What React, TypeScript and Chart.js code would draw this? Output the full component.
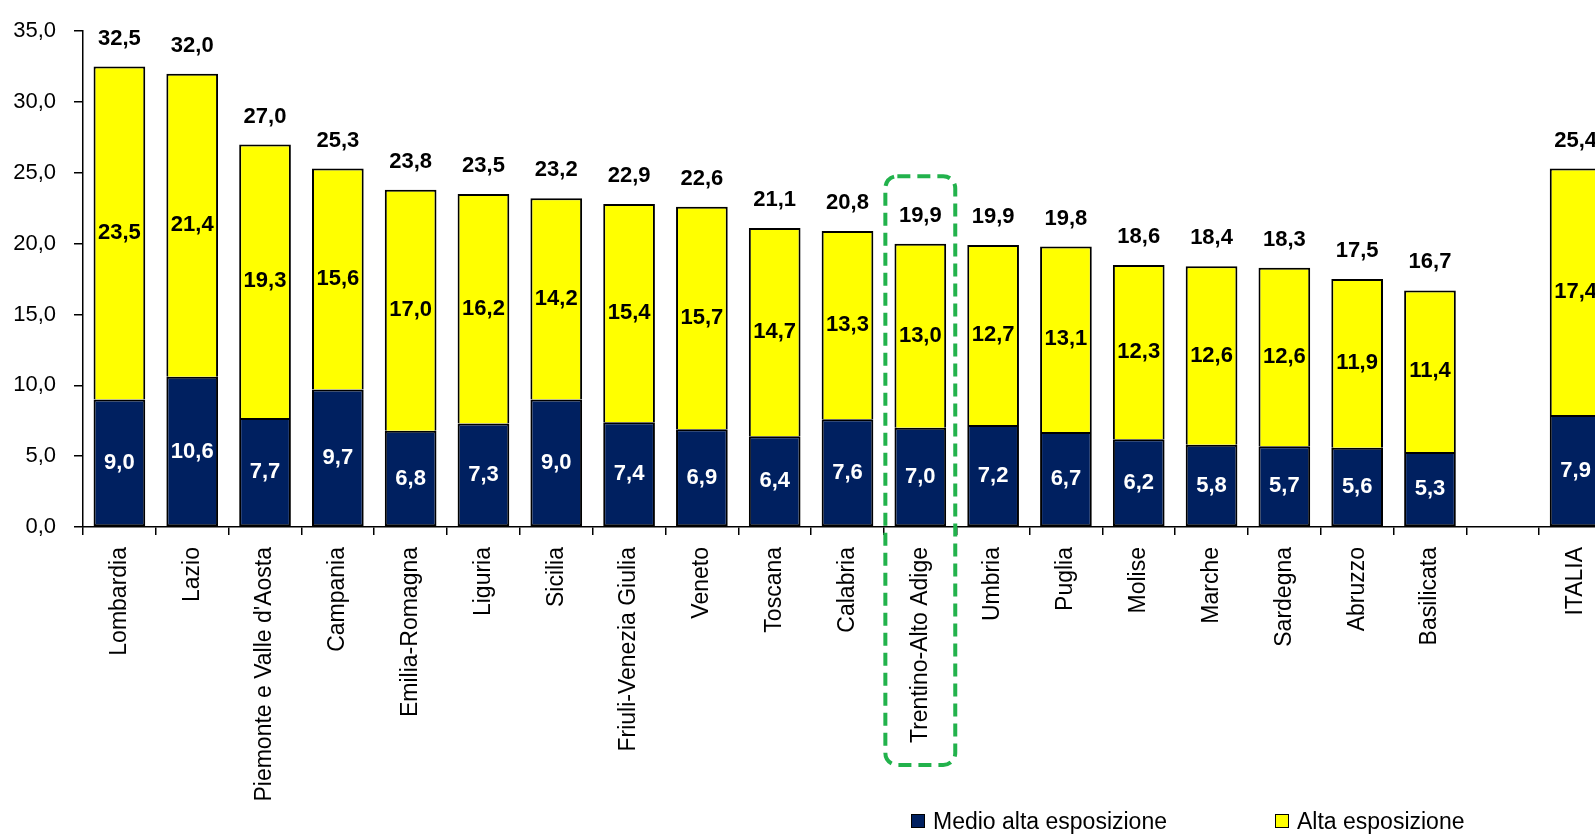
import { useEffect, useRef } from "react";
import { Chart, registerables } from "chart.js";

Chart.register(...registerables);

const regions = [
  "Lombardia",
  "Lazio",
  "Piemonte e Valle d'Aosta",
  "Campania",
  "Emilia-Romagna",
  "Liguria",
  "Sicilia",
  "Friuli-Venezia Giulia",
  "Veneto",
  "Toscana",
  "Calabria",
  "Trentino-Alto Adige",
  "Umbria",
  "Puglia",
  "Molise",
  "Marche",
  "Sardegna",
  "Abruzzo",
  "Basilicata",
  "",
  "ITALIA",
];

const medioAlta = [9.0, 10.6, 7.7, 9.7, 6.8, 7.3, 9.0, 7.4, 6.9, 6.4, 7.6, 7.0, 7.2, 6.7, 6.2, 5.8, 5.7, 5.6, 5.3, null, 7.9];
const alta = [23.5, 21.4, 19.3, 15.6, 17.0, 16.2, 14.2, 15.4, 15.7, 14.7, 13.3, 13.0, 12.7, 13.1, 12.3, 12.6, 12.6, 11.9, 11.4, null, 17.4];
const totale = [32.5, 32.0, 27.0, 25.3, 23.8, 23.5, 23.2, 22.9, 22.6, 21.1, 20.8, 19.9, 19.9, 19.8, 18.6, 18.4, 18.3, 17.5, 16.7, null, 25.4];

const highlighted = "Trentino-Alto Adige";
const seriesNames = ["Medio alta esposizione", "Alta esposizione"];
const seriesColors = ["#002060", "#FFFF00"];

const FONT = "'Liberation Sans', Arial, Helvetica, sans-serif";
const fmt = (v: number) => v.toFixed(1).replace(".", ",");

const valueLabels = {
  id: "valueLabels",
  afterDatasetsDraw(chart: any) {
    const ctx = chart.ctx;
    ctx.save();
    ctx.font = `bold 22px ${FONT}`;
    ctx.textAlign = "center";
    ctx.textBaseline = "middle";
    const n = chart.data.datasets.length;
    chart.data.datasets.forEach((ds: any, di: number) => {
      const meta = chart.getDatasetMeta(di);
      meta.data.forEach((bar: any, i: number) => {
        const v = ds.data[i];
        if (v == null) return;
        const { x, y, base } = bar.getProps(["x", "y", "base"], true);
        ctx.fillStyle = di === 0 ? "#FFFFFF" : "#000000";
        ctx.fillText(fmt(v), x, (y + base) / 2);
        if (di === n - 1 && totale[i] != null) {
          ctx.fillStyle = "#000000";
          ctx.fillText(fmt(totale[i] as number), x, y - 28);
        }
      });
    });
    ctx.restore();
  },
};

const highlightBox = {
  id: "highlightBox",
  afterDraw(chart: any) {
    const idx = regions.indexOf(highlighted);
    if (idx < 0) return;
    const xs = chart.scales.x;
    const ctx = chart.ctx;
    const cx = xs.getPixelForValue(idx);
    const w = (xs.width / regions.length) * 0.96;
    const top = chart.chartArea.top + 145;
    const bottom = chart.chartArea.bottom + 238;
    ctx.save();
    ctx.setLineDash([13, 7]);
    ctx.lineWidth = 4;
    ctx.strokeStyle = "#22B24C";
    ctx.beginPath();
    ctx.roundRect(cx - w / 2, top, w, bottom - top, 12);
    ctx.stroke();
    ctx.restore();
  },
};

export default function App() {
  const ref = useRef<HTMLCanvasElement | null>(null);

  useEffect(() => {
    document.body.style.margin = "0";
    const canvas = ref.current;
    if (!canvas) return;
    const chart = new Chart(canvas, {
      type: "bar",
      data: {
        labels: regions,
        datasets: [
          {
            label: seriesNames[0],
            data: medioAlta as any,
            backgroundColor: seriesColors[0],
            borderColor: "#000000",
            borderWidth: 2,
            borderSkipped: false,
            barPercentage: 0.71,
            categoryPercentage: 1,
          },
          {
            label: seriesNames[1],
            data: alta as any,
            backgroundColor: seriesColors[1],
            borderColor: "#000000",
            borderWidth: 2,
            borderSkipped: "start",
            barPercentage: 0.71,
            categoryPercentage: 1,
          },
        ],
      },
      options: {
        responsive: false,
        animation: false,
        layout: { padding: { left: 0, right: 4, top: 6.5, bottom: 0 } },
        plugins: {
          legend: { display: false },
          tooltip: { enabled: false },
        },
        scales: {
          x: {
            stacked: true,
            afterFit: (s: any) => {
              s.height = 308;
            },
            border: { display: true, color: "#000000", width: 1.5 },
            grid: {
              display: true,
              drawOnChartArea: false,
              drawTicks: true,
              tickLength: 8,
              color: "#000000",
              tickColor: "#000000",
              lineWidth: 1.5,
              offset: true,
            },
            ticks: {
              autoSkip: false,
              maxRotation: 90,
              minRotation: 90,
              padding: 12,
              color: "#000000",
              font: { family: FONT, size: 23 },
            },
          },
          y: {
            stacked: true,
            min: 0,
            max: 35,
            afterFit: (s: any) => {
              s.width = 83;
            },
            border: { display: true, color: "#000000", width: 1.5 },
            grid: {
              display: true,
              drawOnChartArea: false,
              drawTicks: true,
              tickLength: 9,
              color: "#000000",
              tickColor: "#000000",
              lineWidth: 1.5,
            },
            ticks: {
              stepSize: 5,
              padding: 18,
              color: "#000000",
              font: { family: FONT, size: 22 },
              callback: (v: any) => fmt(Number(v)),
            },
          },
        },
      },
      plugins: [valueLabels, highlightBox],
    });
    return () => chart.destroy();
  }, []);

  return (
    <div
      style={{
        position: "fixed",
        left: 0,
        top: 0,
        width: 1595,
        height: 835,
        overflow: "hidden",
        background: "#FFFFFF",
      }}
    >
      <canvas ref={ref} width={1616} height={835} style={{ display: "block" }} />
      <div
        style={{
          position: "absolute",
          left: 911,
          top: 807,
          display: "flex",
          alignItems: "center",
          gap: 108,
          fontFamily: FONT,
          fontSize: 23,
          color: "#000000",
          whiteSpace: "nowrap",
          lineHeight: "28px",
        }}
      >
        {seriesNames.map((name, i) => (
          <div key={name} style={{ display: "flex", alignItems: "center" }}>
            <span
              style={{
                display: "inline-block",
                width: 12,
                height: 12,
                background: seriesColors[i],
                border: "1.5px solid #000000",
                marginRight: 8,
              }}
            />
            <span>{name}</span>
          </div>
        ))}
      </div>
    </div>
  );
}
